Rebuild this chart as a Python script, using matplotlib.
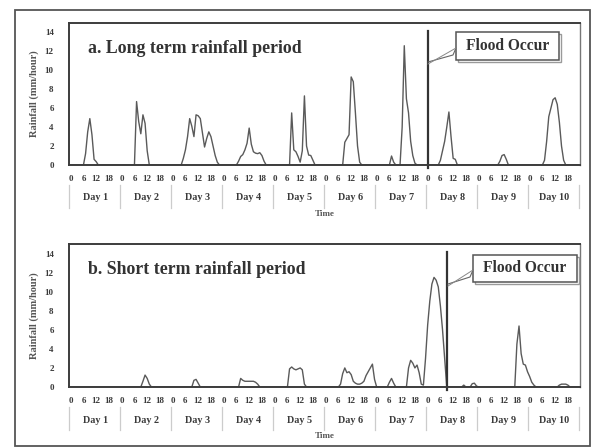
import matplotlib
matplotlib.use('Agg')
import matplotlib.pyplot as plt
from matplotlib.patches import Rectangle
from matplotlib.lines import Line2D
import matplotlib.transforms as mtrans

# hourly rainfall (mm/hour) at the hours where the curve bends
hours_long = [0, 6, 7, 8, 9, 10, 11, 12, 13,
              30, 31, 32, 33, 34, 35, 36, 37,
              52, 53, 54, 55, 56, 57, 58, 59, 60, 61, 62, 63, 64, 65, 66, 67, 68, 69, 70,
              78, 79, 80, 81, 82, 83, 84, 85, 86, 87, 88, 89, 90, 91, 92,
              103, 104, 105, 106, 107, 108, 109, 110, 111, 112, 113, 114, 115,
              128, 129, 130, 131, 132, 133, 134, 135, 136, 137,
              150, 151, 152, 153, 155, 156, 157, 158, 159, 160, 161, 162, 163,
              173, 174, 175, 176, 177, 178, 179, 180, 181, 182,
              201, 202, 203, 204, 205, 206,
              222, 223, 224, 225, 226, 227, 228, 229, 230, 231, 232, 233, 239]
rain_long = [0, 0, 1.2, 3.5, 4.9, 3.2, 0.6, 0.35, 0,
             0, 6.7, 4.6, 3.3, 5.3, 4.4, 1.5, 0,
             0, 0.7, 1.6, 3.0, 4.9, 4.1, 3.0, 5.3, 5.2, 4.9, 3.4, 1.9, 2.8, 3.5, 3.0, 2.0, 1.0, 0.3, 0,
             0, 0.4, 0.9, 1.1, 1.6, 2.3, 3.9, 2.2, 1.4, 1.25, 1.2, 1.3, 1.0, 0.4, 0,
             0, 5.5, 1.6, 1.4, 0.9, 0.3, 1.5, 7.3, 2.0, 1.05, 1.0, 0.5, 0,
             0, 2.4, 2.8, 3.2, 9.3, 8.8, 5.5, 2.0, 0.3, 0,
             0, 0.95, 0.3, 0, 0, 4.0, 12.6, 7.0, 5.5, 2.5, 1.0, 0.2, 0,
             0, 0.5, 1.5, 2.5, 4.0, 5.6, 3.0, 0.7, 0.6, 0,
             0, 0.4, 1.0, 1.1, 0.6, 0,
             0, 0.5, 2.5, 5.1, 6.0, 6.9, 7.1, 6.4, 4.5, 2.0, 0.5, 0, 0]

hours_short = [0, 33, 34, 35, 36, 37, 38,
               57, 58, 59, 60, 61,
               79, 80, 81, 82, 86, 87, 88, 89,
               102, 103, 104, 105, 106, 107, 108, 109, 110, 111,
               126, 127, 128, 129, 130, 131, 132, 133, 134, 135, 136, 137, 138, 139, 140, 141, 142, 143, 144,
               149, 150, 151, 152, 153,
               158, 159, 160, 161, 162, 163, 164, 165, 166, 167, 168, 169, 170, 171, 172, 173, 174, 175, 176, 177,
               184, 185, 186, 188, 189, 190, 191, 192,
               209, 210, 211, 212, 213, 214, 215, 216, 217, 218, 219,
               229, 230, 231, 233, 234, 235, 239]
rain_short = [0, 0, 0.6, 1.25, 0.9, 0.3, 0,
              0, 0.7, 0.8, 0.4, 0,
              0, 0.9, 0.7, 0.6, 0.6, 0.5, 0.3, 0,
              0, 1.9, 2.1, 1.9, 1.8, 1.9, 2.0, 1.8, 0.3, 0,
              0, 0.3, 1.4, 2.0, 1.5, 1.6, 1.3, 0.6, 0.4, 0.3, 0.3, 0.4, 0.6, 1.2, 1.6, 2.0, 2.4, 0.8, 0,
              0, 0.5, 0.9, 0.4, 0,
              0, 2.0, 2.8, 2.5, 2.0, 2.3, 1.5, 0.3, 0.2, 3.0, 6.5, 9.0, 10.8, 11.5, 11.2, 10.5, 8.5, 6.0, 3.0, 0,
              0, 0.2, 0, 0, 0.35, 0.4, 0.1, 0,
              0, 4.5, 6.4, 3.5, 2.4, 2.3, 1.6, 1.1, 0.5, 0.2, 0,
              0, 0.2, 0.3, 0.3, 0.2, 0, 0]

flood_long = 168
flood_short = 177
day_labels = ['Day %d' % d for d in range(1, 11)]
hour_labels = ['0', '6', '12', '18']

W, H = 592, 448
serif = 'Liberation Serif'
txt = '#3a3a3a'

fig = plt.figure(figsize=(W / 100, H / 100), dpi=100)
fig.patch.set_facecolor('white')


def fx(x):
    return x / W


def fy(y):
    return 1 - y / H


# outer frame of the scanned figure
fig.patches.append(Rectangle((fx(15), fy(446)), fx(590) - fx(15), fy(10) - fy(446),
                             transform=fig.transFigure, fill=False, ec='#555555', lw=1.3))


def panel(top, bottom, hours, rain, flood, title, box, link):
    ax = fig.add_axes([fx(69), fy(bottom), fx(580) - fx(69), fy(top) - fy(bottom)])
    ax.plot(hours, rain, color='#5a5a5a', lw=1.0)
    ax.set_xlim(-0.8, 239.7)
    ax.set_ylim(0, 15)
    ax.set_yticks(range(0, 16, 2))
    ax.set_xticks(range(0, 240, 6))
    ax.set_xticklabels(hour_labels * 10)
    ax.tick_params(axis='both', length=0, colors=txt)
    ax.tick_params(axis='x', pad=7)
    ax.tick_params(axis='y', pad=11)
    for lab in ax.get_xticklabels() + ax.get_yticklabels():
        lab.set_fontfamily(serif)
        lab.set_fontweight('bold')
        lab.set_fontsize(6.5)
    for side in ['left', 'top', 'bottom']:
        ax.spines[side].set_color('#3c3c3c')
        ax.spines[side].set_linewidth(1.4)
    ax.spines['right'].set_color('#777777')
    ax.spines['right'].set_linewidth(1.0)
    ax.set_ylabel('Rainfall (mm/hour)', fontfamily=serif, fontweight='bold',
                  fontsize=7.5, color='#555555')
    ax.yaxis.set_label_coords(-0.059, 0.5)

    ax.text(19 / 511, 0.82, title, transform=ax.transAxes,
            fontfamily=serif, fontweight='bold', fontsize=12.8, color='#333333',
            va='center', ha='left')

    # flood marker line
    ax.plot([flood, flood], [-0.3, 14.2], color='#333333', lw=1.6, clip_on=False)

    # day groups under the hour labels
    tr = mtrans.blended_transform_factory(ax.transData, ax.transAxes)
    h = bottom - top
    for k in range(11):
        ax.add_line(Line2D([24 * k - 1, 24 * k - 1], [-20 / h, -43 / h], transform=tr,
                           color='#cccccc', lw=0.9, clip_on=False))
    for k, lab in enumerate(day_labels):
        ax.text(24 * k + 11.5, -33 / h, lab, transform=tr, ha='center', va='center',
                fontfamily=serif, fontweight='bold', fontsize=7.3, color=txt)
    ax.text(0.5, -49 / h, 'Time', transform=ax.transAxes, ha='center', va='center',
            fontfamily=serif, fontweight='bold', fontsize=6.5, color='#555555')

    # callout box
    x0, y0, x1, y1 = box
    fig.patches.append(Rectangle((fx(x0 + 2), fy(y1 + 2)), fx(x1) - fx(x0), fy(y0) - fy(y1),
                                 transform=fig.transFigure, fill=False, ec='#9a9a9a', lw=1.0))
    fig.patches.append(Rectangle((fx(x0), fy(y1)), fx(x1) - fx(x0), fy(y0) - fy(y1),
                                 transform=fig.transFigure, fc='white', ec='#555555', lw=1.1))
    fig.text(fx((x0 + x1) / 2), fy((y0 + y1) / 2), 'Flood Occur', ha='center', va='center',
             fontfamily=serif, fontweight='bold', fontsize=11.2, color='#333333')
    xs = [fx(p[0]) for p in link]
    ys = [fy(p[1]) for p in link]
    fig.lines.append(Line2D(xs, ys, transform=fig.transFigure, color='#666666', lw=0.8))
    fig.lines.append(Line2D([xs[0], xs[-1]], [ys[0] - 2 / H, ys[-1]], transform=fig.transFigure,
                            color='#888888', lw=0.7))
    return ax


panel(23, 165, hours_long, rain_long, flood_long, 'a. Long term rainfall period',
      (456, 32, 559, 60), [(428, 62), (453, 55), (456, 48)])
panel(244, 387, hours_short, rain_short, flood_short, 'b. Short term rainfall period',
      (473, 255, 577, 282), [(448, 284), (470, 277), (473, 270)])

fig.savefig('out.png', dpi=100, facecolor='white')
